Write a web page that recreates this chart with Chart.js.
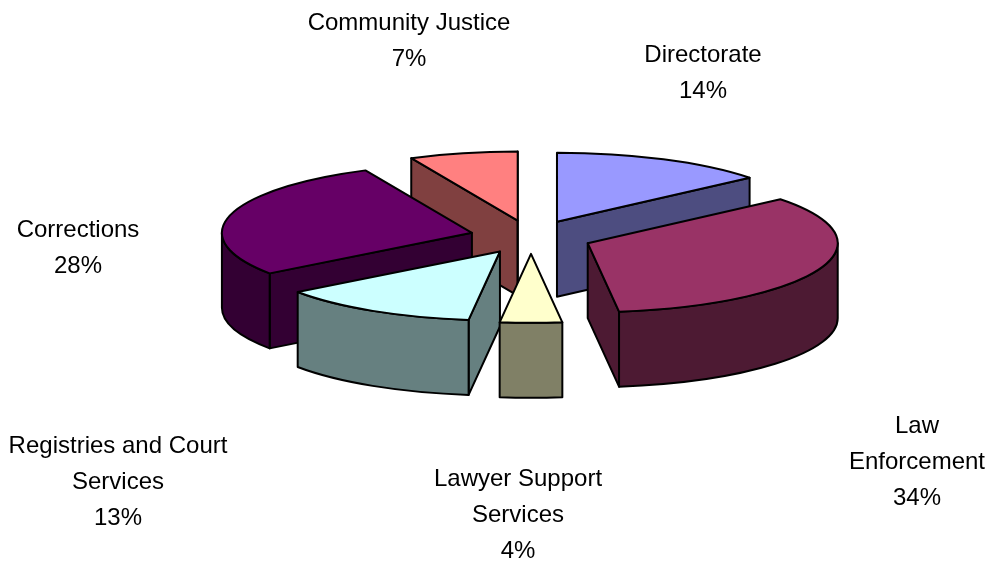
<!DOCTYPE html>
<html>
<head>
<meta charset="utf-8">
<title>Budget by division</title>
<script src="https://cdn.jsdelivr.net/npm/chart.js@4"></script>
<style>
  html, body { margin: 0; padding: 0; background: #fff; }
  canvas { display: block; }
</style>
</head>
<body>
<canvas id="pie3d" width="988" height="562"></canvas>
<script>
const categories = ["Directorate", "Law Enforcement", "Lawyer Support Services", "Registries and Court Services", "Corrections", "Community Justice"];
const shares = [14, 34, 4, 13, 28, 7];
const topColors = ["#9999FF", "#993366", "#FFFFCC", "#CCFFFF", "#660066", "#FF8080"];
const wallColors = ["#4D4D80", "#4D1A33", "#808066", "#668080", "#330033", "#804040"];

// where each label goes, and how its name wraps
const labelLines = [
  ["Directorate"],
  ["Law", "Enforcement"],
  ["Lawyer Support", "Services"],
  ["Registries and Court", "Services"],
  ["Corrections"],
  ["Community Justice"]
];
const labelX = [703, 917, 518, 118, 78, 409];
const labelY = [55, 426, 479, 446, 230, 23];
const lineGap = 36;

// pie geometry on the page
const pie = { cx: 531, cy: 237, rx: 250, ry: 69, depth: 75, explode: 61 };

// the doughnut controller lays out a flat circle, this plugin tips it back
// and gives every slice walls, painting from the back to the front
const tiltedPie = {
  id: "tiltedPie",
  beforeDatasetDraw(chart, args) {
    const ctx = chart.ctx;
    const arcs = args.meta.data;
    const order = arcs.map((arc, i) => i).sort((a, b) => midSin(arcs[a]) - midSin(arcs[b]));
    order.forEach((i) => drawSlice(ctx, arcs[i], wallColors[i]));
    return false; // slices are already painted
  },
  afterDatasetsDraw(chart) {
    const ctx = chart.ctx;
    ctx.save();
    ctx.fillStyle = "#000";
    ctx.font = '24px "Liberation Sans", Arial, sans-serif';
    ctx.textAlign = "center";
    ctx.textBaseline = "middle";
    categories.forEach((name, i) => {
      const lines = labelLines[i].concat(shares[i] + "%");
      lines.forEach((line, n) => ctx.fillText(line, labelX[i], labelY[i] + n * lineGap));
    });
    ctx.restore();
  }
};

function midAngle(arc) {
  return (arc.startAngle + arc.endAngle) / 2;
}

function midSin(arc) {
  return Math.sin(midAngle(arc));
}

function drawSlice(ctx, arc, wallColor) {
  const a1 = arc.startAngle;
  const a2 = arc.endAngle;
  const mid = midAngle(arc);
  const scaleX = pie.rx / arc.outerRadius;
  const scaleY = pie.ry / arc.outerRadius;
  // apex of this slice once pulled out of the pie
  const px = pie.cx + pie.explode * Math.cos(mid);
  const py = pie.cy + pie.explode * (pie.ry / pie.rx) * Math.sin(mid);
  const edgeX = (a) => px + pie.rx * Math.cos(a);
  const edgeY = (a) => py + pie.ry * Math.sin(a);

  ctx.save();
  ctx.lineWidth = 2;
  ctx.lineJoin = "round";
  ctx.strokeStyle = "#000";
  ctx.fillStyle = wallColor;

  // flat cut sides, only the ones turned towards the viewer
  [[a1, Math.cos(a1) < 0], [a2, Math.cos(a2) > 0]].forEach(([a, visible]) => {
    if (!visible) return;
    ctx.beginPath();
    ctx.moveTo(px, py);
    ctx.lineTo(edgeX(a), edgeY(a));
    ctx.lineTo(edgeX(a), edgeY(a) + pie.depth);
    ctx.lineTo(px, py + pie.depth);
    ctx.closePath();
    ctx.fill();
    ctx.stroke();
  });

  // rounded outer wall, front half of the ellipse only
  const from = Math.max(a1, 0);
  const to = Math.min(a2, Math.PI);
  if (to > from) {
    ctx.beginPath();
    ctx.ellipse(px, py, pie.rx, pie.ry, 0, from, to);
    ctx.lineTo(edgeX(to), edgeY(to) + pie.depth);
    ctx.ellipse(px, py + pie.depth, pie.rx, pie.ry, 0, to, from, true);
    ctx.closePath();
    ctx.fill();
    ctx.stroke();
  }

  // top face comes from the library's own arc element
  ctx.save();
  ctx.transform(scaleX, 0, 0, scaleY, px - arc.x * scaleX, py - arc.y * scaleY);
  arc.draw(ctx);
  ctx.restore();

  ctx.beginPath();
  ctx.moveTo(px, py);
  ctx.ellipse(px, py, pie.rx, pie.ry, 0, a1, a2);
  ctx.closePath();
  ctx.stroke();
  ctx.restore();
}

new Chart(document.getElementById("pie3d"), {
  type: "pie",
  data: {
    labels: categories,
    datasets: [{
      data: shares,
      backgroundColor: topColors,
      borderWidth: 0
    }]
  },
  options: {
    responsive: false,
    animation: false,
    plugins: {
      legend: { display: false },
      tooltip: { enabled: false }
    }
  },
  plugins: [tiltedPie]
});
</script>
</body>
</html>
